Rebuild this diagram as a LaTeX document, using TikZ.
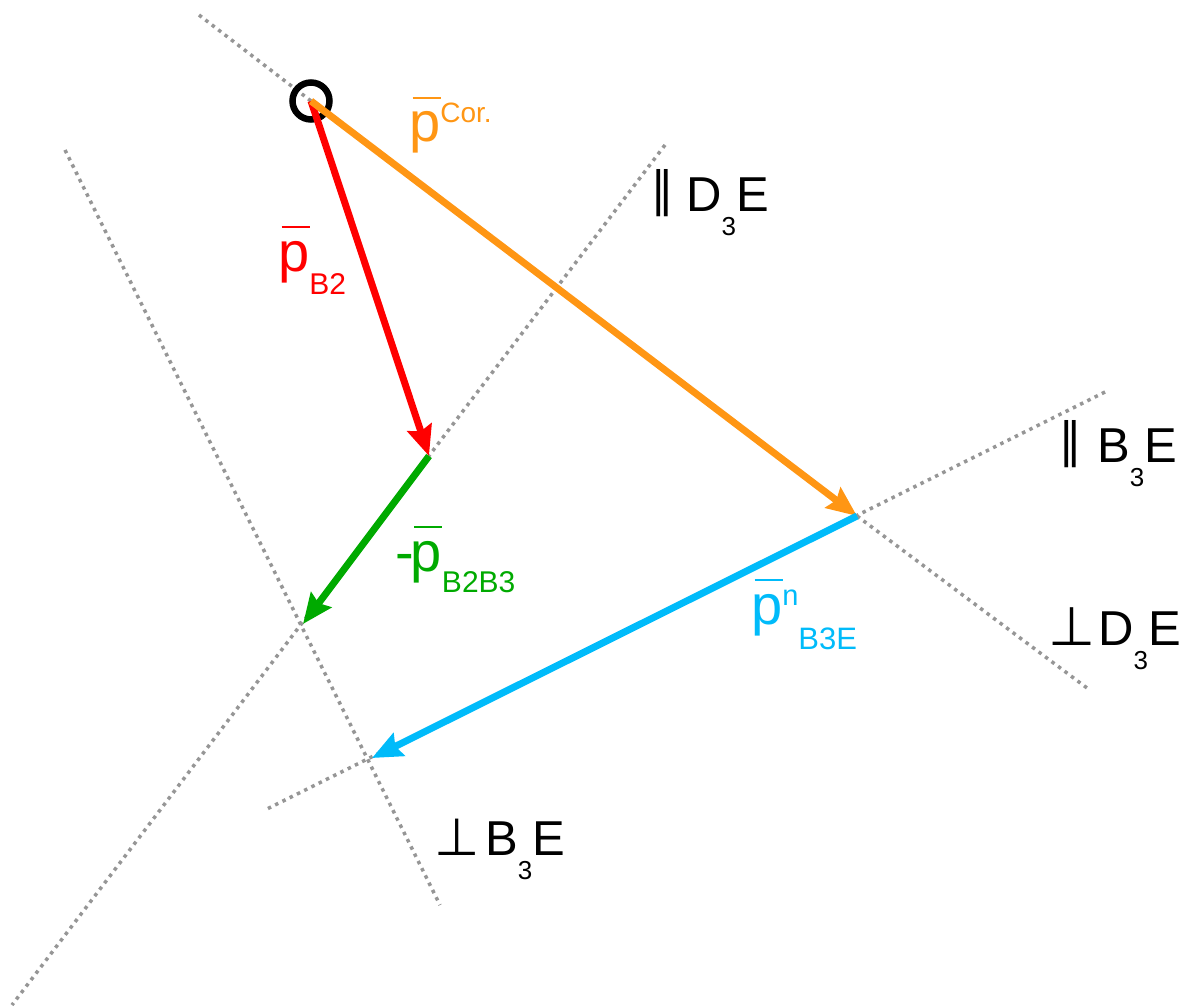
\documentclass[tikz,border=0pt]{standalone}
\usepackage{xcolor}
\usepackage{fontspec}
\setmainfont{Liberation Sans}
\newfontfamily\symf{DejaVu Sans}
\usetikzlibrary{arrows.meta}
\definecolor{corcol}{RGB}{255,150,20}
\definecolor{bcol}{RGB}{255,0,0}
\definecolor{gcol}{RGB}{0,170,0}
\definecolor{ncol}{RGB}{0,187,250}
\definecolor{dotcol}{RGB}{150,150,150}
\newcommand{\pb}{\leavevmode\rlap{\hspace{0.06em}\raisebox{0.77em}{\rule{0.5em}{0.035em}}}p}
\newcommand{\sub}[1]{\raisebox{-24pt}{\fontsize{26}{28}\selectfont #1}}

\begin{document}
\begin{tikzpicture}[x=1pt,y=-1pt]
  \tikzstyle{guide}=[dotcol,line width=3.5pt,dash pattern=on 3.5pt off 4.6pt]
  \tikzstyle{vec}=[line width=7pt,-{Stealth[length=30pt,width=25pt,inset=4pt]}]
  \tikzstyle{lbl}=[anchor=base west,inner sep=0pt,font=\fontsize{56}{60}\selectfont]
  \tikzstyle{dir}=[anchor=base west,inner sep=0pt,font=\fontsize{49}{52}\selectfont]
  \useasboundingbox (0,0) rectangle (1185,1008);
  \foreach \name/\x/\y in {O/311/101,B2/429/456,P/303/624,E/857/516,Q/372/758,
      g1/199/15,g2/665/145,g3/12/1005,g4/65/150,g5/440/905,g6/1105/392,g7/265/810,g8/1087/688}
    \coordinate (\name) at (\x,\y);
  \foreach \from/\to in {g1/O,g2/g3,g4/g5,g6/g7,E/g8}
    \draw[guide] (\from) -- (\to);
  \draw[line width=6.5pt] (O) circle (18.5pt);
  \draw[vec,bcol] (O) -- (B2);
  \draw[vec,gcol] (B2) -- (P);
  \draw[vec,corcol] (O) -- (E);
  \draw[vec,ncol] (E) -- (Q);
  \node[lbl,text=corcol] (pcor) at (409,142) {\pb\raisebox{19pt}{\fontsize{28}{30}\selectfont Cor.}};
  \node[lbl,text=bcol] (pb2) at (278,271) {\pb\raisebox{-23pt}{\fontsize{30}{32}\selectfont B2}};
  \node[lbl,text=gcol] (pb2b3) at (395,571) {-\kern-3pt\pb\raisebox{-21pt}{\fontsize{30}{32}\selectfont B2B3}};
  \node[lbl,text=ncol] (pb3e) at (751,624) {\pb\raisebox{19pt}{\fontsize{29}{30}\selectfont n}\raisebox{-25pt}{\fontsize{31}{32}\selectfont B3E}};
  \node[dir] (parD) at (686,212) {\llap{\raisebox{5pt}{\symf\fontsize{48}{52}\selectfont ∥}\hspace{12pt}}D\sub{3}E};
  \node[dir] (parB) at (1097,462) {\llap{\raisebox{5pt}{\symf\fontsize{48}{52}\selectfont ∥}\hspace{15pt}}B\sub{3}E};
  \node[dir] (perpD) at (1098,645) {\llap{\symf\fontsize{54}{56}\selectfont ⊥\hspace{3pt}}D\sub{3}E};
  \node[dir] (perpB) at (485,855) {\llap{\symf\fontsize{52}{56}\selectfont ⊥\hspace{5pt}}B\sub{3}E};
\end{tikzpicture}
\end{document}
